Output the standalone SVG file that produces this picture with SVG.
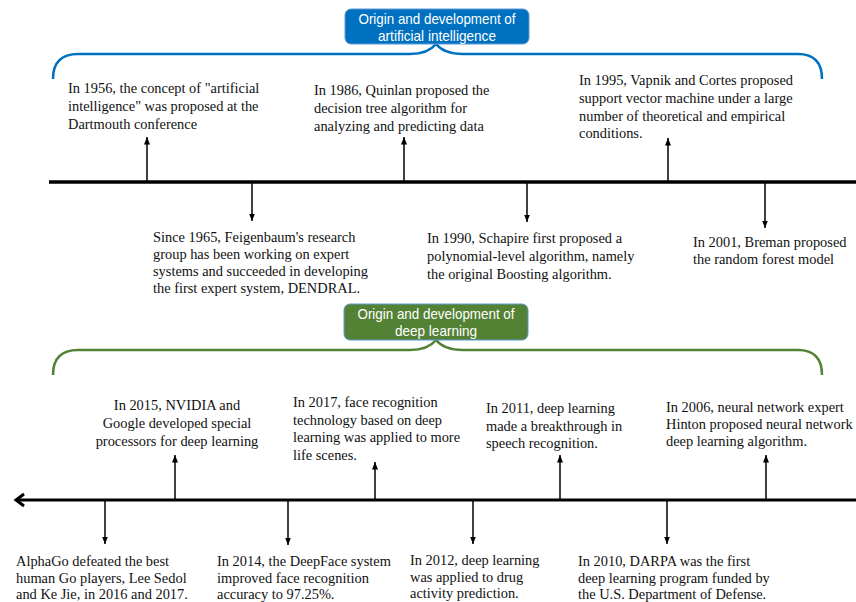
<svg xmlns="http://www.w3.org/2000/svg" width="856" height="602" viewBox="0 0 856 602">
<style>
.t{font-family:"Liberation Serif","Times New Roman",serif;font-size:14.4px;fill:#111}
.h{font-family:"Liberation Sans",Arial,sans-serif;font-size:14.5px;fill:#fff;text-anchor:middle}
.ar{stroke:#000;stroke-width:1.5;fill:none}
.tl{stroke:#000;fill:none}
</style>
<defs>
<marker id="ah" markerUnits="userSpaceOnUse" markerWidth="8" markerHeight="8" viewBox="0 0 8 8" refX="7.5" refY="4" orient="auto">
<path d="M0,1 L7.5,4 L0,7 Z" fill="#000"/>
</marker>
</defs>
<g id="connectors">
<line class="tl" x1="49" y1="182" x2="856" y2="182" stroke-width="3.5"/>
<line class="tl" x1="16" y1="500" x2="856" y2="500" stroke-width="3"/>
<polyline class="tl" points="24,494 16,500 24,506" stroke-width="3"/>
<path d="M53,79 Q53,54 78,54 L410,54 Q428,54 436,44 Q444,54 463,54 L798,54 Q822,54 822,79" fill="none" stroke="#0070C0" stroke-width="2.5"/>
<path d="M53,375 Q53,350 78,350 L410,350 Q428,350 436,340 Q444,350 463,350 L798,350 Q822,350 822,375" fill="none" stroke="#548235" stroke-width="2.5"/>
<line class="ar" x1="147" y1="182" x2="147" y2="137" marker-end="url(#ah)"/>
<line class="ar" x1="404" y1="182" x2="404" y2="137" marker-end="url(#ah)"/>
<line class="ar" x1="668" y1="182" x2="668" y2="138" marker-end="url(#ah)"/>
<line class="ar" x1="252" y1="182" x2="252" y2="221" marker-end="url(#ah)"/>
<line class="ar" x1="527" y1="182" x2="527" y2="222" marker-end="url(#ah)"/>
<line class="ar" x1="765" y1="182" x2="765" y2="228" marker-end="url(#ah)"/>
<line class="ar" x1="175" y1="500" x2="175" y2="455" marker-end="url(#ah)"/>
<line class="ar" x1="375" y1="500" x2="375" y2="462" marker-end="url(#ah)"/>
<line class="ar" x1="560" y1="500" x2="560" y2="455" marker-end="url(#ah)"/>
<line class="ar" x1="766" y1="500" x2="766" y2="455" marker-end="url(#ah)"/>
<line class="ar" x1="105" y1="500" x2="105" y2="544" marker-end="url(#ah)"/>
<line class="ar" x1="288" y1="500" x2="288" y2="545" marker-end="url(#ah)"/>
<line class="ar" x1="473" y1="500" x2="473" y2="544" marker-end="url(#ah)"/>
<line class="ar" x1="667" y1="500" x2="667" y2="544" marker-end="url(#ah)"/>
</g>
<g id="title-ai">
<rect x="345" y="9" width="184" height="35" rx="6" fill="#0070C0" stroke="#5B9BD5" stroke-width="1"/>
<text class="h" x="437" y="23.5" textLength="157" lengthAdjust="spacingAndGlyphs">Origin and development of</text>
<text class="h" x="437" y="40.5" textLength="118" lengthAdjust="spacingAndGlyphs">artificial intelligence</text>
</g>
<g id="title-dl">
<rect x="344" y="304" width="184" height="36" rx="6" fill="#548235" stroke="#5B9BD5" stroke-width="1"/>
<text class="h" x="436" y="318.5" textLength="157" lengthAdjust="spacingAndGlyphs">Origin and development of</text>
<text class="h" x="436" y="335.5" textLength="82" lengthAdjust="spacingAndGlyphs">deep learning</text>
</g>
<g id="n1956"><text class="t" x="68" y="93">In 1956, the concept of "artificial</text><text class="t" x="68" y="111">intelligence" was proposed at the</text><text class="t" x="68" y="129">Dartmouth conference</text></g>
<g id="n1986"><text class="t" x="314" y="95">In 1986, Quinlan proposed the</text><text class="t" x="314" y="113">decision tree algorithm for</text><text class="t" x="314" y="131">analyzing and predicting data</text></g>
<g id="n1995"><text class="t" x="579" y="85">In 1995, Vapnik and Cortes proposed</text><text class="t" x="579" y="103">support vector machine under a large</text><text class="t" x="579" y="121">number of theoretical and empirical</text><text class="t" x="579" y="138">conditions.</text></g>
<g id="n1965"><text class="t" x="153" y="242">Since 1965, Feigenbaum's research</text><text class="t" x="153" y="259">group has been working on expert</text><text class="t" x="153" y="276">systems and succeeded in developing</text><text class="t" x="153" y="293">the first expert system, DENDRAL.</text></g>
<g id="n1990"><text class="t" x="427" y="243">In 1990, Schapire first proposed a</text><text class="t" x="427" y="261">polynomial-level algorithm, namely</text><text class="t" x="427" y="279">the original Boosting algorithm.</text></g>
<g id="n2001"><text class="t" x="693" y="247">In 2001, Breman proposed</text><text class="t" x="693" y="264">the random forest model</text></g>
<g id="n2015"><text class="t" x="177" y="410" text-anchor="middle">In 2015, NVIDIA and</text><text class="t" x="177" y="428" text-anchor="middle">Google developed special</text><text class="t" x="177" y="446" text-anchor="middle">processors for deep learning</text></g>
<g id="n2017"><text class="t" x="293" y="407">In 2017, face recognition</text><text class="t" x="293" y="425">technology based on deep</text><text class="t" x="293" y="442">learning was applied to more</text><text class="t" x="293" y="460">life scenes.</text></g>
<g id="n2011"><text class="t" x="486" y="413">In 2011, deep learning</text><text class="t" x="486" y="431">made a breakthrough in</text><text class="t" x="486" y="448">speech recognition.</text></g>
<g id="n2006"><text class="t" x="666" y="412">In 2006, neural network expert</text><text class="t" x="666" y="429">Hinton proposed neural network</text><text class="t" x="666" y="446">deep learning algorithm.</text></g>
<g id="nalphago"><text class="t" x="16" y="566">AlphaGo defeated the best</text><text class="t" x="16" y="582.5">human Go players, Lee Sedol</text><text class="t" x="16" y="598.5">and Ke Jie, in 2016 and 2017.</text></g>
<g id="n2014"><text class="t" x="217" y="566">In 2014, the DeepFace system</text><text class="t" x="217" y="582.5">improved face recognition</text><text class="t" x="217" y="598.5">accuracy to 97.25%.</text></g>
<g id="n2012"><text class="t" x="410" y="565">In 2012, deep learning</text><text class="t" x="410" y="582">was applied to drug</text><text class="t" x="410" y="598">activity prediction.</text></g>
<g id="n2010"><text class="t" x="578" y="566">In 2010, DARPA was the first</text><text class="t" x="578" y="582.5">deep learning program funded by</text><text class="t" x="578" y="598.5">the U.S. Department of Defense.</text></g>
</svg>
